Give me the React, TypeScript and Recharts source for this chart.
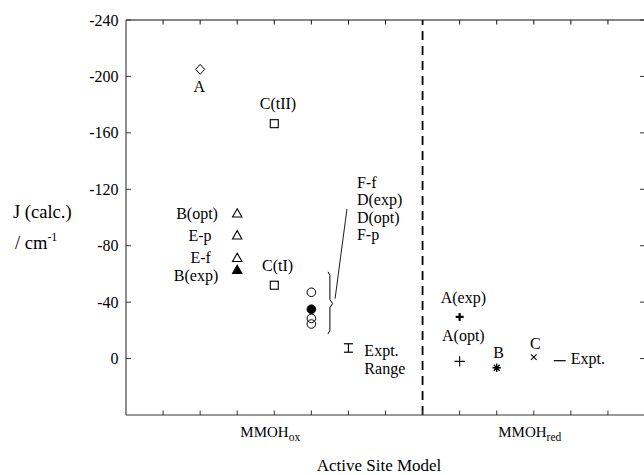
import React from 'react';
import { ScatterChart, Scatter, XAxis, YAxis, ReferenceLine, ErrorBar } from 'recharts';

const FONT = '"Liberation Serif", "Times New Roman", serif';

// Axis ticks
const yTicks = [-240, -200, -160, -120, -80, -40, 0];
const xTicks = [1, 2, 3, 4, 5, 6, 7, 8, 9, 10, 11, 12, 13];
const groupTicks = [4, 11];
const groupSubs = ['ox', 'red'];
const dividerX = 8;

// MMOH_ox models
const diamondPts = [{ x: 2, J: -205 }];
const squarePts = [{ x: 4, J: -166.5 }, { x: 4, J: -52 }];
const openTriPts = [{ x: 3, J: -103 }, { x: 3, J: -87.5 }, { x: 3, J: -71.5 }];
const filledTriPts = [{ x: 3, J: -63 }];
const openCirclePts = [{ x: 5, J: -47 }, { x: 5, J: -28.5 }, { x: 5, J: -24.5 }];
const filledCirclePts = [{ x: 5, J: -35 }];
const exptRangePts = [{ x: 6, J: -7.5, err: 3 }];

// MMOH_red models
const boldPlusPts = [{ x: 9, J: -29.5 }];
const thinPlusPts = [{ x: 9, J: 2 }];
const starPts = [{ x: 10, J: 6.5 }];
const crossPts = [{ x: 11, J: -1 }];
const exptDashPts = [{ x: 11.7, J: 1.5 }];

// Brace and pointer line
const bracePts = [
  { x: 5.45, J: -61.5 }, { x: 5.5, J: -59 }, { x: 5.5, J: -42 }, { x: 5.57, J: -39 },
  { x: 5.5, J: -36 }, { x: 5.5, J: -20 }, { x: 5.45, J: -17.5 },
];
const pointerPts = [{ x: 5.64, J: -42.5 }, { x: 5.96, J: -106 }];

// Annotation labels (data coordinates)
const labelTexts = ['A', 'C(tII)', 'B(opt)', 'E-p', 'E-f', 'B(exp)', 'C(tI)', 'F-f', 'D(exp)', 'D(opt)', 'F-p', 'Expt.', 'Range', 'A(exp)', 'A(opt)', 'B', 'C', 'Expt.'];
const labelX = [1.98, 4.1, 2.48, 2.31, 2.29, 2.49, 4.09, 6.23, 6.23, 6.23, 6.23, 6.43, 6.43, 9.1, 9.1, 10.05, 11.04, 12.0];
const labelJ = [-192.6, -180.9, -102.8, -87.4, -71.8, -59, -66.2, -124.8, -112.6, -100, -88.2, -5.9, 6.9, -43.7, -16.5, -4.7, -10.6, -0.2];
const labelAnchor = ['middle', 'middle', 'end', 'end', 'end', 'end', 'middle', 'start', 'start', 'start', 'start', 'start', 'start', 'middle', 'middle', 'middle', 'middle', 'start'];
const labelPts = labelTexts.map((t, i) => ({ x: labelX[i], J: labelJ[i], text: t, anchor: labelAnchor[i] }));

// anchor points so that the frame axes receive data
const frameAnchorPts = [{ x: 0, J: -240 }, { x: 14, J: 40 }];

const K = '#000';
const TICK_LEN = 4.5;

const Diamond = (p: any) => (
  <path d={`M${p.cx},${p.cy - 5}L${p.cx + 4.5},${p.cy}L${p.cx},${p.cy + 5}L${p.cx - 4.5},${p.cy}Z`} fill="#fff" stroke={K} strokeWidth={1} />
);
const Square = (p: any) => <rect x={p.cx - 4} y={p.cy - 4} width={8} height={8} fill="#fff" stroke={K} strokeWidth={1.1} />;
const makeTri = (filled: boolean) => (p: any) => (
  <path d={`M${p.cx},${p.cy - 4.5}L${p.cx + 4.7},${p.cy + 3.8}L${p.cx - 4.7},${p.cy + 3.8}Z`} fill={filled ? K : '#fff'} stroke={K} strokeWidth={1.1} />
);
const makeCirc = (filled: boolean) => (p: any) => (
  <circle cx={p.cx} cy={p.cy} r={4.3} fill={filled ? K : 'none'} stroke={K} strokeWidth={1} />
);
const makePlus = (half: number, w: number) => (p: any) => (
  <path d={`M${p.cx - half},${p.cy}H${p.cx + half}M${p.cx},${p.cy - half}V${p.cy + half}`} stroke={K} strokeWidth={w} fill="none" />
);
const Star = (p: any) => {
  const r = 4.2;
  const d = r * 0.707;
  return (
    <path
      d={`M${p.cx - r},${p.cy}H${p.cx + r}M${p.cx},${p.cy - r}V${p.cy + r}M${p.cx - d},${p.cy - d}L${p.cx + d},${p.cy + d}M${p.cx - d},${p.cy + d}L${p.cx + d},${p.cy - d}`}
      stroke={K}
      strokeWidth={1.3}
      fill="none"
    />
  );
};
const Cross = (p: any) => (
  <path d={`M${p.cx - 2.8},${p.cy - 2.8}L${p.cx + 2.8},${p.cy + 2.8}M${p.cx - 2.8},${p.cy + 2.8}L${p.cx + 2.8},${p.cy - 2.8}`} stroke={K} strokeWidth={1.1} fill="none" />
);
const Dash = (p: any) => <path d={`M${p.cx - 6},${p.cy}H${p.cx + 6}`} stroke={K} strokeWidth={1.2} />;
const Nothing = () => <g />;
const LabelShape = (p: any) => (
  <text x={p.cx} y={p.cy} dy="0.35em" textAnchor={p.payload.anchor} fontFamily={FONT} fontSize={16} fill={K}>
    {p.payload.text}
  </text>
);

// Ticks drawn inward from the axis line (tickSize 0, tickMargin 0 => x/y is on the axis line)
const BottomTick = (p: any) => {
  const i = groupTicks.indexOf(p.payload.value);
  return (
    <g>
      <line x1={p.x} y1={p.y} x2={p.x} y2={p.y - TICK_LEN} stroke="#333" strokeWidth={1} />
      {i >= 0 && (
        <text x={p.x - 4} y={p.y + 21.5} textAnchor="middle" fontFamily={FONT} fontSize={15} fill={K}>
          MMOH
          <tspan fontSize={11.5} dy={4}>{groupSubs[i]}</tspan>
        </text>
      )}
    </g>
  );
};
const TopTick = (p: any) => <line x1={p.x} y1={p.y} x2={p.x} y2={p.y + TICK_LEN} stroke="#111" strokeWidth={1} />;
const LeftTick = (p: any) => (
  <g>
    <line x1={p.x} y1={p.y} x2={p.x + 5} y2={p.y} stroke="#333" strokeWidth={1} />
    <text x={p.x - 7.5} y={p.y} dy="0.35em" textAnchor="end" fontFamily={FONT} fontSize={16} fill={K}>
      {p.payload.value}
    </text>
  </g>
);
const RightTick = (p: any) => <line x1={p.x} y1={p.y} x2={p.x - 5} y2={p.y} stroke="#333" strokeWidth={1} />;

const XTitle = () => (
  <text x={379} y={470.5} textAnchor="middle" fontFamily={FONT} fontSize={17} fill={K}>
    Active Site Model
  </text>
);

const YTitle = () => (
  <g fontFamily={FONT} fill={K}>
    <text x={13} y={218} fontSize={18.5}>J (calc.)</text>
    <text x={15} y={249} fontSize={18.5}>
      / cm
      <tspan fontSize={12} dy={-8}>-1</tspan>
    </text>
  </g>
);

const common = { xAxisId: 'x', yAxisId: 'y', isAnimationActive: false } as const;

export default function App() {
  return (
    <div style={{ position: 'absolute', left: 0, top: 0, width: 644, height: 475, overflow: 'hidden', background: '#fff' }}>
      <ScatterChart width={665} height={475} margin={{ top: 0, right: 0, bottom: 0, left: 0 }}>
        <XAxis xAxisId="x" dataKey="x" type="number" domain={[0, 14]} ticks={xTicks} orientation="bottom" height={60} interval={0}
          tick={<BottomTick />} tickLine={false} tickSize={0} tickMargin={0} axisLine={{ stroke: '#333', strokeWidth: 1.2 }}
          label={<XTitle />} allowDataOverflow />
        <XAxis xAxisId="top" dataKey="x" type="number" domain={[0, 14]} ticks={xTicks} orientation="top" height={20} interval={0}
          tick={<TopTick />} tickLine={false} tickSize={0} tickMargin={0} axisLine={{ stroke: '#111', strokeWidth: 1.2 }} allowDataOverflow />
        <YAxis yAxisId="y" dataKey="J" type="number" domain={[-240, 40]} reversed ticks={yTicks} width={126} interval={0}
          tick={<LeftTick />} tickLine={false} tickSize={0} tickMargin={0} axisLine={{ stroke: '#444', strokeWidth: 1.2 }}
          label={<YTitle />} allowDataOverflow />
        <YAxis yAxisId="r" dataKey="J" type="number" domain={[-240, 40]} reversed ticks={yTicks} orientation="right" width={20} interval={0}
          tick={<RightTick />} tickLine={false} tickSize={0} tickMargin={0} axisLine={{ stroke: '#333' }} allowDataOverflow />

        <ReferenceLine xAxisId="x" yAxisId="y" x={dividerX} stroke={K} strokeWidth={1.8} strokeDasharray="9 6" />

        <Scatter xAxisId="top" yAxisId="r" data={frameAnchorPts} shape={Nothing} isAnimationActive={false} />

        <Scatter {...common} data={diamondPts} shape={Diamond} />
        <Scatter {...common} data={squarePts} shape={Square} />
        <Scatter {...common} data={openTriPts} shape={makeTri(false)} />
        <Scatter {...common} data={filledTriPts} shape={makeTri(true)} />
        <Scatter {...common} data={openCirclePts} shape={makeCirc(false)} />
        <Scatter {...common} data={filledCirclePts} shape={makeCirc(true)} />
        <Scatter {...common} data={exptRangePts} shape={Nothing}>
          <ErrorBar dataKey="err" direction="y" width={4.5} stroke={K} strokeWidth={1.2} isAnimationActive={false} />
        </Scatter>
        <Scatter {...common} data={boldPlusPts} shape={makePlus(4, 2.2)} />
        <Scatter {...common} data={thinPlusPts} shape={makePlus(5.2, 1.1)} />
        <Scatter {...common} data={starPts} shape={Star} />
        <Scatter {...common} data={crossPts} shape={Cross} />
        <Scatter {...common} data={exptDashPts} shape={Dash} />
        <Scatter {...common} data={bracePts} shape={Nothing} line={{ stroke: K, strokeWidth: 1 }} lineType="joint" />
        <Scatter {...common} data={pointerPts} shape={Nothing} line={{ stroke: K, strokeWidth: 0.9 }} lineType="joint" />
        <Scatter {...common} data={labelPts} shape={LabelShape} />
      </ScatterChart>
    </div>
  );
}
